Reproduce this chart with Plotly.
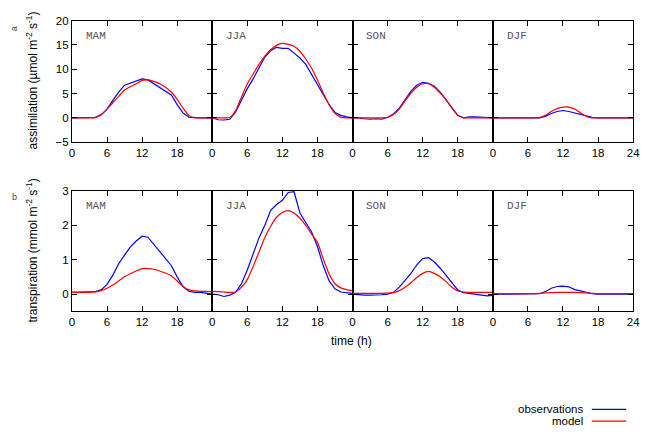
import plotly.graph_objects as go

# Mean diurnal cycles per season, hourly (local time, h)
hours = list(range(25))
seasons = ["MAM", "JJA", "SON", "DJF"]

# Assimilation (umol m-2 s-1)
assim_obs = {
    "MAM": [0, 0, 0, 0, 0.1, 0.6, 1.8, 3.6, 5.3, 6.7, 7.1, 7.5, 8.0, 7.8, 7.0, 6.2, 5.5, 4.7, 2.7, 1.0, 0.15, 0, 0, 0, 0],
    "JJA": [0, -0.4, -0.45, -0.3, 1.2, 3.7, 6.0, 8.0, 10.3, 12.5, 13.8, 14.5, 14.3, 14.3, 13.3, 12.3, 11.0, 9.0, 6.7, 4.7, 2.7, 1.1, 0.5, 0.2, 0],
    "SON": [0, 0, -0.2, -0.3, -0.2, -0.3, 0.1, 0.8, 2.0, 3.8, 5.5, 6.7, 7.3, 7.1, 6.5, 5.3, 3.7, 2.0, 0.5, 0, 0.2, 0.2, 0.1, 0, 0],
    "DJF": [0, 0, 0, 0, 0, 0, 0, 0, 0, 0.3, 0.9, 1.3, 1.5, 1.3, 1.0, 0.6, 0.3, 0.1, 0, 0, 0, 0, 0, 0, 0],
}
assim_mod = {
    "MAM": [0, 0, 0, 0, 0.05, 0.7, 1.8, 3.1, 4.4, 5.7, 6.4, 7.0, 7.7, 7.8, 7.5, 7.0, 6.3, 5.3, 3.8, 2.0, 0.5, 0, 0, 0, 0],
    "JJA": [0, 0, 0, 0.05, 1.5, 4.3, 7.0, 9.0, 11.0, 12.7, 14.0, 14.9, 15.3, 15.1, 14.7, 13.7, 12.1, 10.2, 7.8, 5.1, 2.7, 0.9, 0.1, 0, 0],
    "SON": [0, 0, 0, 0, 0, 0, 0.1, 0.7, 1.8, 3.5, 5.1, 6.3, 7.0, 7.0, 6.3, 5.1, 3.7, 2.0, 0.5, 0, 0, 0, 0, 0, 0],
    "DJF": [0, 0, 0, 0, 0, 0, 0, 0, 0.05, 0.5, 1.3, 1.9, 2.2, 2.2, 1.8, 1.0, 0.3, 0, 0, 0, 0, 0, 0, 0, 0],
}

# Transpiration (mmol m-2 s-1)
transp_obs = {
    "MAM": [0.05, 0.05, 0.05, 0.05, 0.07, 0.12, 0.28, 0.55, 0.88, 1.13, 1.37, 1.54, 1.68, 1.65, 1.44, 1.25, 1.02, 0.83, 0.5, 0.22, 0.08, 0.05, 0.05, 0.03, 0.0],
    "JJA": [0.0, -0.02, -0.07, -0.03, 0.05, 0.3, 0.7, 1.16, 1.63, 2.0, 2.43, 2.6, 2.72, 2.95, 2.97, 2.35, 2.07, 1.8, 1.38, 0.82, 0.38, 0.15, 0.06, 0.04, 0.02],
    "SON": [0.0, -0.02, -0.03, -0.03, -0.03, -0.02, 0.0, 0.05, 0.2, 0.4, 0.6, 0.85, 1.03, 1.06, 0.93, 0.75, 0.54, 0.33, 0.12, 0.04, 0.02, 0.0, -0.03, -0.05, -0.04],
    "DJF": [0, 0.01, 0, 0, 0, 0, 0, 0, 0.01, 0.07, 0.17, 0.22, 0.23, 0.21, 0.13, 0.09, 0.05, 0.01, 0, 0, 0, 0, 0, 0, 0],
}
transp_mod = {
    "MAM": [0.05, 0.05, 0.05, 0.05, 0.06, 0.1, 0.17, 0.26, 0.38, 0.5, 0.59, 0.67, 0.74, 0.74, 0.72, 0.67, 0.61, 0.53, 0.38, 0.22, 0.12, 0.09, 0.08, 0.08, 0.07],
    "JJA": [0.08, 0.07, 0.06, 0.05, 0.06, 0.2, 0.42, 0.8, 1.22, 1.64, 1.97, 2.23, 2.37, 2.42, 2.35, 2.2, 1.99, 1.74, 1.5, 1.02, 0.58, 0.3, 0.18, 0.13, 0.1],
    "SON": [0.02, 0.02, 0.02, 0.02, 0.02, 0.02, 0.03, 0.04, 0.1, 0.2, 0.33, 0.48, 0.6, 0.66, 0.6, 0.5, 0.36, 0.2, 0.09, 0.06, 0.05, 0.05, 0.05, 0.05, 0.05],
    "DJF": [0.01, 0.01, 0.01, 0.01, 0.01, 0.01, 0.01, 0.01, 0.02, 0.03, 0.04, 0.05, 0.05, 0.05, 0.05, 0.04, 0.03, 0.02, 0.01, 0.01, 0.01, 0.01, 0.01, 0.01, 0.01],
}

x_ticks_inner = [0, 6, 12, 18]
x_ticks_last = [0, 6, 12, 18, 24]
assim_range = [-5, 20]
assim_ticks = [-5, 0, 5, 10, 15, 20]
transp_range = [-0.5, 3]
transp_ticks = [0, 1, 2, 3]

OBS_COLOR = "#0000ff"
MOD_COLOR = "#ff0000"

W, H = 649, 432
left_px, right_px = 70, 640
rows_px = [(15, 140), (190, 314)]
panel_w = (right_px - left_px) / 4

fig = go.Figure()
layout = {}

rows = [
    (assim_obs, assim_mod, assim_range, assim_ticks),
    (transp_obs, transp_mod, transp_range, transp_ticks),
]

tick_font = dict(family="Liberation Sans, Arial, sans-serif", size=11.5, color="black")
label_font = dict(family="Liberation Mono, Courier New, monospace", size=11, color="#555555")

annotations = []
for r, (obs, mod, yr, yt) in enumerate(rows):
    top, bot = rows_px[r]
    for c, s in enumerate(seasons):
        n = r * 4 + c + 1
        xs = "" if n == 1 else str(n)
        x0 = (left_px + c * panel_w) / W
        x1 = (left_px + (c + 1) * panel_w) / W
        y0 = (H - bot) / H
        y1 = (H - top) / H
        fig.add_trace(go.Scatter(x=hours, y=obs[s], mode="lines",
                                 line=dict(color=OBS_COLOR, width=1.2),
                                 xaxis="x" + xs, yaxis="y" + xs, showlegend=False))
        fig.add_trace(go.Scatter(x=hours, y=mod[s], mode="lines",
                                 line=dict(color=MOD_COLOR, width=1.2, shape="spline", smoothing=0.6),
                                 xaxis="x" + xs, yaxis="y" + xs, showlegend=False))
        layout["xaxis" + xs] = dict(
            domain=[x0, x1], anchor="y" + xs, range=[0, 24],
            tickvals=x_ticks_last if c == 3 else x_ticks_inner,
            ticks="inside", ticklen=5, tickcolor="black", mirror="ticks",
            showline=True, linecolor="black", linewidth=1,
            showgrid=False, zeroline=False, tickfont=tick_font,
        )
        layout["yaxis" + xs] = dict(
            domain=[y0, y1], anchor="x" + xs, range=yr, tickvals=yt,
            ticks="inside", ticklen=5, tickcolor="black", mirror="ticks",
            showline=True, linecolor="black", linewidth=1,
            showgrid=False, zeroline=False, tickfont=tick_font,
            showticklabels=(c == 0),
        )
        annotations.append(dict(
            text=s, x=12 / panel_w, y=1 - (16 / (bot - top)),
            xref="x" + xs + " domain", yref="y" + xs + " domain",
            xanchor="left", yanchor="middle", showarrow=False, font=label_font,
        ))

title_font = dict(family="Liberation Sans, Arial, sans-serif", size=12, color="black")
legend_font = dict(family="Liberation Sans, Arial, sans-serif", size=11.5, color="black")
annotations += [
    dict(text="assimilation (µmol m<sup>-2</sup> s<sup>-1</sup>)", x=29 / W, y=(H - 77) / H,
         xref="paper", yref="paper", textangle=-90, showarrow=False, font=title_font,
         xanchor="center", yanchor="middle"),
    dict(text="transpiration (mmol m<sup>-2</sup> s<sup>-1</sup>)", x=29 / W, y=(H - 252) / H,
         xref="paper", yref="paper", textangle=-90, showarrow=False, font=title_font,
         xanchor="center", yanchor="middle"),
    dict(text="time (h)", x=354 / W, y=(H - 345) / H, xref="paper", yref="paper",
         showarrow=False, font=title_font, xanchor="center", yanchor="middle"),
    dict(text="a", x=12 / W, y=(H - 23) / H, xref="paper", yref="paper", textangle=-90,
         showarrow=False, font=dict(family="Liberation Sans, Arial, sans-serif", size=9, color="#444444"),
         xanchor="center", yanchor="middle"),
    dict(text="b", x=12 / W, y=(H - 196) / H, xref="paper", yref="paper",
         showarrow=False, font=dict(family="Liberation Sans, Arial, sans-serif", size=9, color="#444444"),
         xanchor="center", yanchor="middle"),
    dict(text="observations", x=591 / W, y=(H - 415) / H, xref="paper", yref="paper",
         showarrow=False, font=legend_font, xanchor="right", yanchor="middle"),
    dict(text="model", x=591 / W, y=(H - 427) / H, xref="paper", yref="paper",
         showarrow=False, font=legend_font, xanchor="right", yanchor="middle"),
]

# Legend key lines
shapes = [
    dict(type="line", xref="paper", yref="paper", x0=598 / W, x1=633 / W,
         y0=(H - 415) / H, y1=(H - 415) / H, line=dict(color=OBS_COLOR, width=1.2)),
    dict(type="line", xref="paper", yref="paper", x0=598 / W, x1=633 / W,
         y0=(H - 427) / H, y1=(H - 427) / H, line=dict(color=MOD_COLOR, width=1.2)),
]

fig.update_layout(
    width=W, height=H, margin=dict(l=0, r=0, t=0, b=0),
    paper_bgcolor="white", plot_bgcolor="white",
    annotations=annotations, shapes=shapes, showlegend=False,
    **layout,
)

fig.write_html("out.html")
